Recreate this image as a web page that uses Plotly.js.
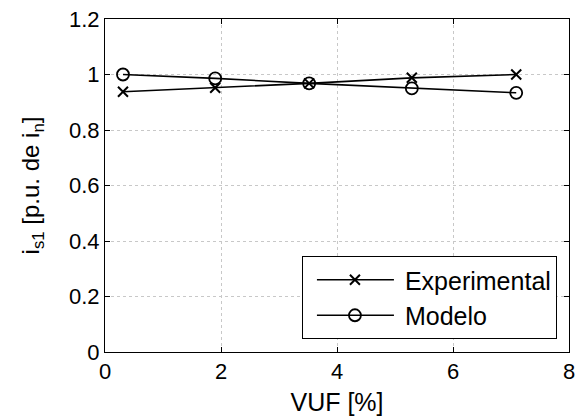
<!DOCTYPE html>
<html>
<head>
<meta charset="utf-8">
<script src="https://cdn.plot.ly/plotly-3.0.1.min.js"></script>
<style>html,body{margin:0;padding:0;background:#fff}#chart{width:576px;height:420px}</style>
</head>
<body>
<div id="chart"></div>
<script>
// Voltage unbalance factor (%) and positive-sequence stator current (p.u.)
const vuf = [0.31, 1.9, 3.52, 5.29, 7.09];
const experimental = [0.938, 0.952, 0.968, 0.988, 1.0];
const modelo = [1.0, 0.986, 0.968, 0.95, 0.934];
const xTicks = [0, 2, 4, 6, 8];
const yTicks = [0, 0.2, 0.4, 0.6, 0.8, 1, 1.2];

const family = 'Liberation Sans, Arial, sans-serif';
const tickFont = {family: family, size: 22, color: '#000'};
const labelFont = {family: family, size: 25, color: '#000'};

const traces = [
  {
    x: vuf, y: experimental, name: 'Experimental', type: 'scatter', mode: 'lines+markers',
    line: {color: '#000', width: 1.6},
    marker: {symbol: 'x-thin-open', size: 10, color: '#000', line: {color: '#000', width: 2}}
  },
  {
    x: vuf, y: modelo, name: 'Modelo', type: 'scatter', mode: 'lines+markers',
    line: {color: '#000', width: 1.6},
    marker: {symbol: 'circle-open', size: 12, color: '#000', line: {color: '#000', width: 1.8}}
  }
];

const axisCommon = {
  showline: true, linecolor: '#000', linewidth: 1, mirror: 'ticks',
  ticks: 'inside', ticklen: 5, tickcolor: '#000',
  showgrid: true, gridcolor: '#c8c8c8', griddash: 'dot', gridwidth: 1,
  zeroline: false, tickfont: tickFont
};

const layout = {
  width: 576, height: 420,
  margin: {l: 105, r: 7, t: 19, b: 68},
  paper_bgcolor: '#fff', plot_bgcolor: '#fff',
  font: tickFont,
  showlegend: true,
  xaxis: Object.assign({}, axisCommon, {
    range: [0, 8], tickvals: xTicks, ticktext: xTicks.map(String),
    title: {text: 'VUF [%]', font: labelFont, standoff: 10}
  }),
  yaxis: Object.assign({}, axisCommon, {
    range: [0, 1.2], tickvals: yTicks, ticktext: yTicks.map(String),
    title: {text: 'i<sub>s1</sub> [p.u. de i<sub>n</sub>]', font: {family: family, size: 24, color: '#000'}, standoff: 22}
  }),
  legend: {
    x: 0.974, y: 0.039, xanchor: 'right', yanchor: 'bottom',
    bgcolor: '#fff', bordercolor: '#000', borderwidth: 1,
    font: labelFont, itemwidth: 92, tracegroupgap: 0
  }
};

Plotly.newPlot('chart', traces, layout, {displayModeBar: false, staticPlot: true}).then(function (gd) {
  // stretch the legend sample lines and centre the marker on them
  gd.querySelectorAll('.legend .legendlines path').forEach(function (p) {
    p.setAttribute('d', 'M14,0h77');
  });
  gd.querySelectorAll('.legend .legendpoints path.scatterpts').forEach(function (p) {
    p.setAttribute('transform', 'translate(52,0)');
  });
});
</script>
</body>
</html>
